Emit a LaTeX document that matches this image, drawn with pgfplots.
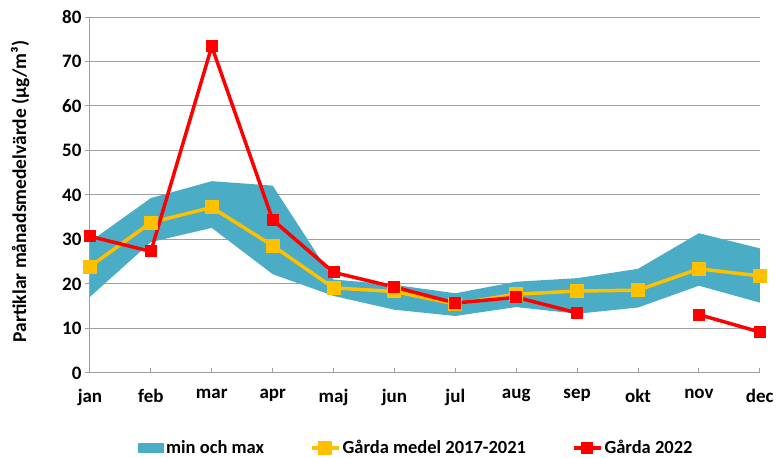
\documentclass[border=0pt]{standalone}
\usepackage{fontspec}
\setmainfont{Carlito}
\usepackage{pgfplots}
\pgfplotsset{compat=1.18}
\usepgfplotslibrary{fillbetween}
\definecolor{band}{HTML}{4BACC6}
\definecolor{gold}{HTML}{FFC000}
\definecolor{gridgray}{HTML}{A0A0A0}
\pgfplotsset{
  linelegend/.style={legend image code/.code={\draw[mark repeat=2,mark phase=2,##1] plot coordinates {(0pt,0pt)(13.5pt,0pt)(27pt,0pt)};}},
  bandlegend/.style={legend image code/.code={\fill[band] (0pt,-5pt) rectangle (26pt,5pt);}},
}
\begin{document}
\begin{tikzpicture}
\path (-90pt,-82pt) rectangle (687pt,373pt);
\begin{axis}[at={(0,0)}, anchor=south west, scale only axis,
  width=670pt, height=356pt,
  xmin=0, xmax=11, ymin=0, ymax=80,
  xtick={0,...,11},
  xticklabels={jan,feb,mar,apr,maj,jun,jul,aug,sep,okt,nov,dec},
  ytick={0,10,...,80},
  axis lines*=left,
  ymajorgrids,
  major grid style={gridgray, line width=1pt},
  axis line style={gridgray, line width=1pt},
  tick style={gridgray, line width=1pt},
  tick align=outside, major tick length=5pt,
  x tick style={yshift=5pt},
  tick label style={font=\fontsize{19}{22}\selectfont\bfseries},
  xticklabel style={yshift=-8pt},
  /pgf/number format/assume math mode=true,
  ylabel={Partiklar månadsmedelvärde (µg/m³)},
  ylabel style={font=\fontsize{19.5}{22}\selectfont\bfseries, at={(axis description cs:-0.104,0.51)}, anchor=center},
  unbounded coords=jump,
  legend style={at={(axis description cs:0.0716,-0.211)}, anchor=west, draw=none, inner sep=0pt,
    nodes={inner xsep=2pt},
    font=\fontsize{18.5}{21}\selectfont\bfseries,
    /tikz/every even column/.append style={column sep=44pt}},
  legend columns=-1,
]
\addplot[name path=upper, draw=none, forget plot] coordinates {
(0,29.5)(1,39.3)(2,43.1)(3,42.1)(4,21)(5,19.8)(6,17.9)(7,20.5)(8,21.3)(9,23.4)(10,31.4)(11,28.0)};
\addplot[name path=lower, draw=none, forget plot] coordinates {
(0,17.1)(1,29.4)(2,32.6)(3,22.2)(4,17.3)(5,14.2)(6,12.8)(7,14.8)(8,13.3)(9,14.7)(10,19.6)(11,15.8)};
\addplot[band, draw=none, bandlegend] fill between[of=upper and lower];
\addlegendentry{min och max}
\addplot[gold, line width=3.5pt, mark=square*, mark size=6.5pt, mark options={line width=0pt}, linelegend] coordinates {
(0,23.9)(1,33.8)(2,37.2)(3,28.6)(4,19.1)(5,18.3)(6,15.5)(7,17.7)(8,18.4)(9,18.6)(10,23.4)(11,21.8)};
\addlegendentry{Gårda medel 2017-2021}
\addplot[red, line width=3.5pt, mark=square*, mark size=5.5pt, mark options={line width=0pt}, linelegend] coordinates {
(0,30.7)(1,27.3)(2,73.4)(3,34.4)(4,22.6)(5,19.3)(6,15.7)(7,17.0)(8,13.5)(9,nan)(10,13.1)(11,9.2)};
\addlegendentry{Gårda 2022}
\end{axis}
\end{tikzpicture}
\end{document}
